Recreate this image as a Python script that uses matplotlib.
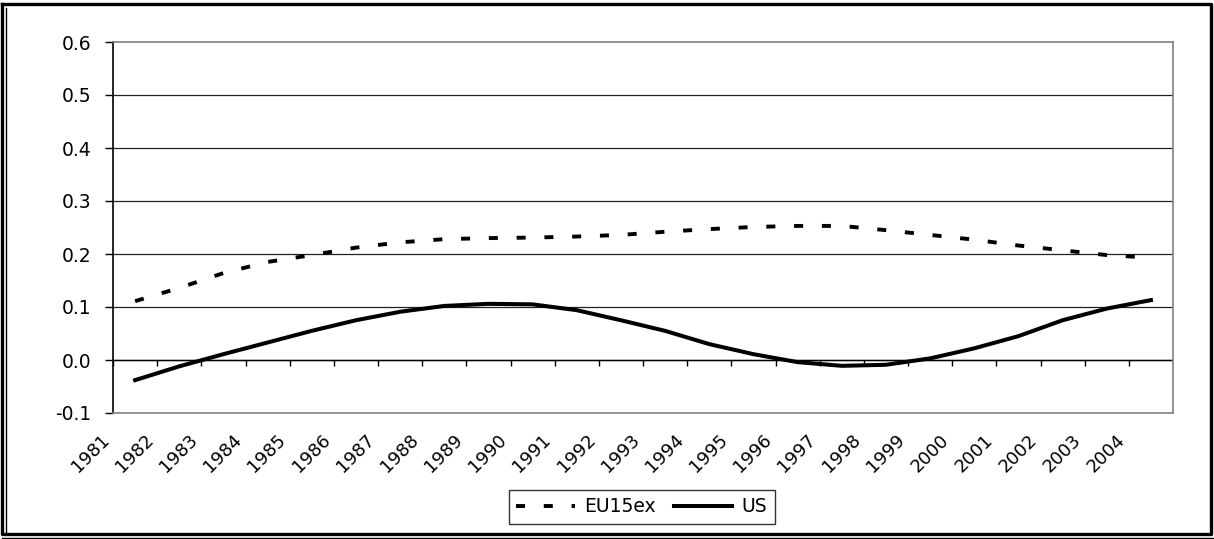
import numpy as np
import matplotlib
matplotlib.use("Agg")
import matplotlib.pyplot as plt
from matplotlib.lines import Line2D

plt.rcParams["font.family"] = ["DejaVu Sans"]
plt.rcParams["lines.scale_dashes"] = False

# Datos
anios = [str(a) for a in range(1981, 2005)]
eu15ex = [0.111, 0.136, 0.164, 0.185, 0.198, 0.212, 0.222, 0.228, 0.230, 0.231,
          0.233, 0.236, 0.242, 0.247, 0.251, 0.253, 0.253, 0.245, 0.236, 0.227,
          0.216, 0.207, 0.198, 0.193]
us = [-0.038, -0.012, 0.011, 0.033, 0.055, 0.075, 0.091, 0.102, 0.106, 0.105,
      0.094, 0.075, 0.055, 0.030, 0.011, -0.004, -0.011, -0.009, 0.003, 0.022,
      0.045, 0.075, 0.097, 0.113]
yticks = [-0.1, 0.0, 0.1, 0.2, 0.3, 0.4, 0.5, 0.6]

W, H = 1214, 539
fig = plt.figure(figsize=(W / 100, H / 100), dpi=100)
ax = fig.add_axes([113 / W, 1 - 413 / H, (1173 - 113) / W, (413 - 42) / H])

x = np.arange(len(anios))
ax.plot(x, eu15ex, color="black", lw=2.8, ls=(0, (6.5, 13.5)),
        solid_capstyle="butt", dash_capstyle="butt", label="EU15ex", zorder=3)
ax.plot(x, us, color="black", lw=2.9, label="US", zorder=3)

ax.set_xlim(-0.5, len(anios) - 0.5)
ax.set_ylim(-0.1, 0.6)

# Rejilla horizontal y eje en cero
for v in yticks[1:-1]:
    ax.axhline(v, color="#222222", lw=0.9, zorder=1)
ax.axhline(0.0, color="black", lw=1.0, zorder=2)
ax.vlines(np.arange(len(anios) + 1) - 0.5, -0.011, 0.0, color="black",
          lw=1.0, zorder=2)

ax.set_yticks(yticks)
ax.set_yticklabels([f"{v:.1f}" for v in yticks])
ax.tick_params(axis="y", direction="out", length=5.8, width=1.0, pad=10,
               labelsize=13.5, color="black")
ax.set_xticks(x - 0.5)
ax.set_xticklabels(anios, rotation=45, ha="right", va="top", fontsize=13)
ax.tick_params(axis="x", length=0, pad=13)

for s in ["top", "right", "bottom"]:
    ax.spines[s].set_color("#808080")
    ax.spines[s].set_linewidth(1.2)
ax.spines["left"].set_color("black")
ax.spines["left"].set_linewidth(1.2)

leg = fig.legend(loc="center", bbox_to_anchor=(642 / W, 1 - 507 / H), ncol=2,
                 fontsize=13.5, frameon=True, fancybox=False, handlelength=3.1,
                 handletextpad=0.5, columnspacing=1.0, borderpad=0.4,
                 borderaxespad=0)
leg.get_frame().set_edgecolor("black")
leg.get_frame().set_linewidth(1.0)

# Marco doble exterior
def linea(xs, ys, lw):
    fig.add_artist(Line2D([v / W for v in xs], [1 - v / H for v in ys],
                          transform=fig.transFigure, color="black", lw=lw,
                          solid_capstyle="projecting"))

linea([2, 1211, 1211, 2, 2], [4, 4, 534, 534, 4], 2.4)
linea([6, 6], [8, 534], 1.0)
linea([2, 1213], [537.5, 537.5], 1.0)

fig.savefig("out.png", dpi=100, facecolor="white")
